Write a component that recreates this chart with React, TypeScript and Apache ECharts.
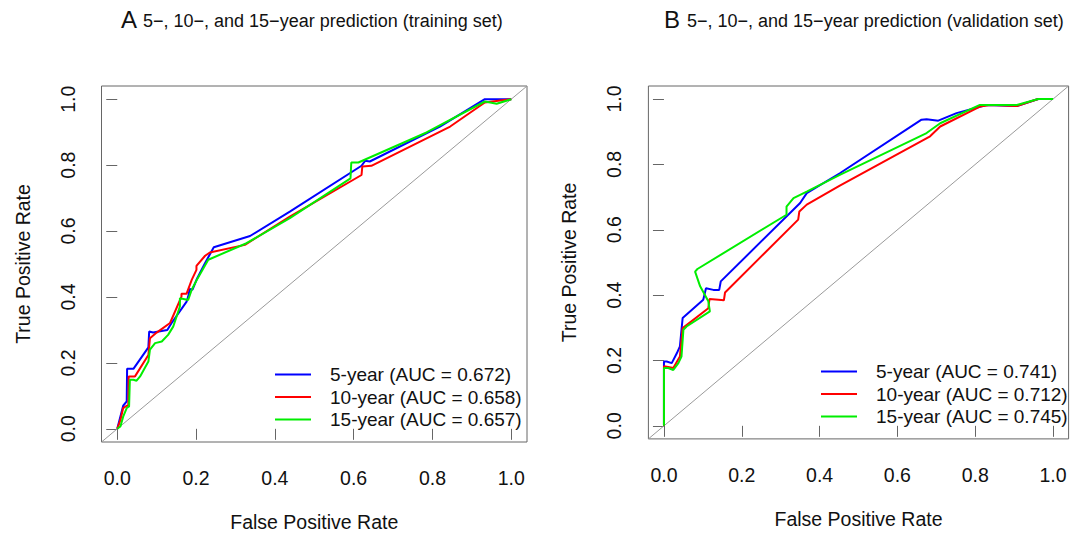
import React, { useEffect, useRef } from 'react';
import * as echarts from 'echarts';

const FONT = '"Liberation Sans", Arial, Helvetica, sans-serif';

const tickValues = [0, 0.2, 0.4, 0.6, 0.8, 1.0];

const titleA = '5−, 10−, and 15−year prediction (training set)';
const titleB = '5−, 10−, and 15−year prediction (validation set)';
const xTitle = 'False Positive Rate';
const yTitle = 'True Positive Rate';

const trainNames = ['5-year (AUC = 0.672)', '10-year (AUC = 0.658)', '15-year (AUC = 0.657)'];
const validNames = ['5-year (AUC = 0.741)', '10-year (AUC = 0.712)', '15-year (AUC = 0.745)'];
const lineColors = ['#0000FF', '#FF0000', '#00EE00'];

// Panel A – training set
const trainFpr5 = [0, 0.008, 0.015, 0.024, 0.025, 0.041, 0.079, 0.081, 0.091, 0.127, 0.138, 0.176, 0.180, 0.184, 0.191, 0.203, 0.223, 0.245, 0.337, 0.438, 0.620, 0.629, 0.641, 0.819, 0.933, 0.997, 1.0];
const trainTpr5 = [0, 0.037, 0.070, 0.083, 0.182, 0.182, 0.247, 0.295, 0.292, 0.300, 0.321, 0.386, 0.401, 0.424, 0.422, 0.457, 0.503, 0.551, 0.585, 0.659, 0.798, 0.813, 0.811, 0.917, 1.0, 1.0, 1.0];

const trainFpr10 = [0, 0.008, 0.015, 0.024, 0.028, 0.029, 0.045, 0.079, 0.083, 0.100, 0.134, 0.163, 0.163, 0.176, 0.189, 0.201, 0.201, 0.223, 0.235, 0.324, 0.438, 0.620, 0.622, 0.645, 0.845, 0.933, 1.0];
const trainTpr10 = [0, 0.027, 0.063, 0.070, 0.070, 0.159, 0.159, 0.224, 0.275, 0.292, 0.321, 0.401, 0.410, 0.410, 0.452, 0.482, 0.494, 0.525, 0.535, 0.558, 0.644, 0.770, 0.796, 0.798, 0.917, 0.990, 1.0];

const trainFpr15 = [0, 0.008, 0.015, 0.024, 0.030, 0.032, 0.041, 0.049, 0.058, 0.079, 0.083, 0.096, 0.113, 0.129, 0.142, 0.159, 0.159, 0.180, 0.189, 0.201, 0.214, 0.231, 0.328, 0.438, 0.592, 0.594, 0.612, 0.785, 0.933, 0.963, 1.0];
const trainTpr15 = [0, 0.007, 0.037, 0.063, 0.068, 0.149, 0.149, 0.146, 0.159, 0.204, 0.240, 0.260, 0.265, 0.285, 0.310, 0.371, 0.396, 0.391, 0.422, 0.450, 0.477, 0.513, 0.563, 0.639, 0.760, 0.808, 0.808, 0.899, 0.993, 0.986, 1.0];

// Panel B – validation set
const validFpr5 = [0, 0, 0.007, 0.020, 0.033, 0.041, 0.048, 0.101, 0.108, 0.127, 0.142, 0.146, 0.350, 0.367, 0.452, 0.662, 0.675, 0.705, 0.752, 0.829, 0.907, 0.962, 1.0];
const validTpr5 = [0, 0.197, 0.197, 0.192, 0.222, 0.243, 0.330, 0.386, 0.421, 0.416, 0.416, 0.442, 0.682, 0.712, 0.773, 0.937, 0.938, 0.934, 0.957, 0.982, 0.979, 1.0, 1.0];

const validFpr10 = [0, 0, 0.011, 0.024, 0.041, 0.048, 0.114, 0.117, 0.140, 0.154, 0.157, 0.345, 0.348, 0.367, 0.452, 0.684, 0.710, 0.812, 0.838, 0.907, 0.962, 1.0];
const validTpr10 = [0, 0.182, 0.180, 0.177, 0.212, 0.299, 0.360, 0.388, 0.386, 0.384, 0.408, 0.631, 0.656, 0.677, 0.735, 0.886, 0.916, 0.977, 0.982, 0.979, 1.0, 1.0];

const validFpr15 = [0, 0, 0.011, 0.024, 0.037, 0.045, 0.050, 0.058, 0.118, 0.114, 0.093, 0.080, 0.086, 0.315, 0.315, 0.333, 0.367, 0.452, 0.675, 0.710, 0.812, 0.907, 0.962, 1.0];
const validTpr15 = [0, 0.177, 0.177, 0.171, 0.192, 0.212, 0.294, 0.304, 0.350, 0.381, 0.427, 0.472, 0.480, 0.646, 0.671, 0.697, 0.717, 0.768, 0.896, 0.926, 0.982, 0.982, 1.0, 1.0];

// reference (chance) line spanning the plotting region
const chanceX = [-0.04, 1.04];
const chanceY = [-0.04, 1.04];

const zip = (xs: number[], ys: number[]) => xs.map((x, i) => [x, ys[i]]);

const LABEL_SIZE = 19.5;
const LEGEND_SIZE = 19;

function makeXAxis(gridIndex: number) {
  return {
    gridIndex,
    type: 'value',
    min: -0.04,
    max: 1.04,
    offset: 2,
    axisLine: { show: false },
    splitLine: { show: false },
    axisTick: { show: true, customValues: tickValues, length: 11, lineStyle: { color: '#666', width: 1 } },
    axisLabel: {
      customValues: tickValues,
      formatter: (v: number) => v.toFixed(1),
      fontSize: LABEL_SIZE,
      color: '#111',
      fontFamily: FONT,
      margin: 24,
    },
    name: xTitle,
    nameLocation: 'middle',
    nameGap: 68,
    nameTextStyle: { fontSize: LABEL_SIZE, color: '#111', fontFamily: FONT },
  };
}

function makeYAxis(gridIndex: number) {
  return {
    gridIndex,
    type: 'value',
    min: -0.04,
    max: 1.04,
    offset: 2,
    axisLine: { show: false },
    splitLine: { show: false },
    axisTick: { show: true, customValues: tickValues, length: 11, lineStyle: { color: '#666', width: 1 } },
    axisLabel: {
      customValues: tickValues,
      formatter: (v: number) => v.toFixed(1),
      fontSize: LABEL_SIZE,
      color: '#111',
      fontFamily: FONT,
      margin: 22,
      rotate: 90,
    },
    name: yTitle,
    nameLocation: 'middle',
    nameRotate: 90,
    nameGap: 67,
    nameTextStyle: { fontSize: LABEL_SIZE, color: '#111', fontFamily: FONT },
  };
}

function rocSeries(name: string, color: string, xs: number[], ys: number[], idx: number) {
  return {
    type: 'line',
    name,
    xAxisIndex: idx,
    yAxisIndex: idx,
    data: zip(xs, ys),
    symbol: 'none',
    showSymbol: false,
    lineStyle: { color, width: 2 },
    itemStyle: { color },
    z: 3,
  };
}

function chanceSeries(idx: number) {
  return {
    type: 'line',
    name: 'chance',
    xAxisIndex: idx,
    yAxisIndex: idx,
    data: zip(chanceX, chanceY),
    symbol: 'none',
    showSymbol: false,
    lineStyle: { color: '#9a9a9a', width: 1 },
    silent: true,
    z: 2,
  };
}

function makeLegend(names: string[], left: number, top: number) {
  return {
    data: names,
    orient: 'vertical',
    left,
    top,
    padding: 0,
    itemGap: 3.5,
    itemWidth: 36,
    itemHeight: 2,
    icon: 'rect',
    selectedMode: false,
    formatter: (n: string) => `{t|${n}}`,
    textStyle: {
      color: '#111',
      fontFamily: FONT,
      fontSize: LEGEND_SIZE,
      rich: { t: { fontSize: LEGEND_SIZE, padding: [0, 0, 0, 14], color: '#111', fontFamily: FONT } },
    },
  };
}

const titleStyle = (size: number) => ({ fontSize: size, fontWeight: 'normal', color: '#111', fontFamily: FONT });

const option = {
  animation: false,
  backgroundColor: '#ffffff',
  title: [
    { text: 'A', left: 121, top: 7, padding: 0, textStyle: titleStyle(24) },
    { text: titleA, left: 143, top: 12, padding: 0, textStyle: titleStyle(18) },
    { text: 'B', left: 664, top: 7, padding: 0, textStyle: titleStyle(24) },
    { text: titleB, left: 687, top: 12, padding: 0, textStyle: titleStyle(18) },
  ],
  grid: [
    { left: 101.5, top: 86, width: 425.5, height: 356, show: true, borderColor: '#666', borderWidth: 1, backgroundColor: 'transparent', outerBoundsMode: 'none' },
    { left: 648.4, top: 86, width: 420.2, height: 352.9, show: true, borderColor: '#666', borderWidth: 1, backgroundColor: 'transparent', outerBoundsMode: 'none' },
  ],
  xAxis: [makeXAxis(0), makeXAxis(1)],
  yAxis: [makeYAxis(0), makeYAxis(1)],
  legend: [makeLegend(trainNames, 275, 365), makeLegend(validNames, 821, 362)],
  series: [
    chanceSeries(0),
    rocSeries(trainNames[0], lineColors[0], trainFpr5, trainTpr5, 0),
    rocSeries(trainNames[1], lineColors[1], trainFpr10, trainTpr10, 0),
    rocSeries(trainNames[2], lineColors[2], trainFpr15, trainTpr15, 0),
    chanceSeries(1),
    rocSeries(validNames[0], lineColors[0], validFpr5, validTpr5, 1),
    rocSeries(validNames[1], lineColors[1], validFpr10, validTpr10, 1),
    rocSeries(validNames[2], lineColors[2], validFpr15, validTpr15, 1),
  ],
};

export default function App() {
  const ref = useRef<HTMLDivElement>(null);
  useEffect(() => {
    if (!ref.current) return;
    const chart = echarts.init(ref.current, null, { renderer: 'svg' });
    chart.setOption(option as any);
    return () => chart.dispose();
  }, []);
  return (
    <div
      ref={ref}
      style={{ position: 'fixed', left: 0, top: 0, width: 1085, height: 538, background: '#fff' }}
    />
  );
}
